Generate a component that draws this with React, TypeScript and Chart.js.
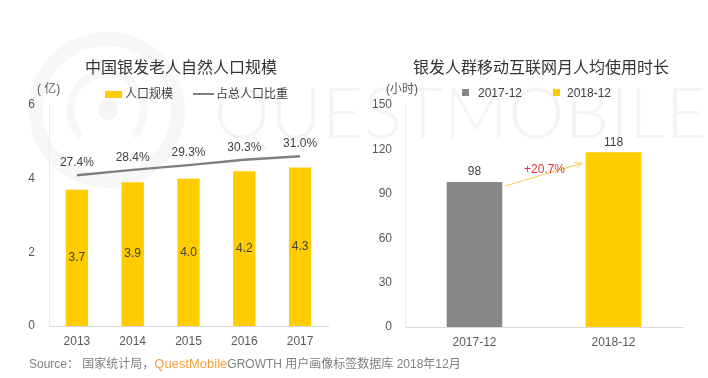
import React, { useEffect, useRef } from "react";
import { Chart, registerables } from "chart.js";

Chart.register(...registerables);

// ---------- data ----------
const years = ["2013", "2014", "2015", "2016", "2017"];
const population = [3.7, 3.9, 4.0, 4.2, 4.3];
const shareOfTotal = [27.4, 28.4, 29.3, 30.3, 31.0];
const populationTicks = [0, 2, 4, 6];

const months = ["2017-12", "2018-12"];
const usageHours = [98, 118];
const hourTicks = [0, 30, 60, 90, 120, 150];
const growthLabel = "+20.7%";

// ---------- styles ----------
const FONT = "'Liberation Sans', Arial, 'Noto Sans CJK SC', sans-serif";
const YELLOW = "#FFCC00";
const GREY_BAR = "#878787";
const LINE_GREY = "#7f7f7f";
const TICK = "#595959";
const LABEL = "#404040";

function LeftChart() {
  const ref = useRef<HTMLCanvasElement | null>(null);
  useEffect(() => {
    if (!ref.current) return;
    const labelPlugin = {
      id: "leftLabels",
      afterDatasetsDraw(chart: any) {
        const ctx = chart.ctx;
        ctx.save();
        ctx.font = `12px ${FONT}`;
        ctx.fillStyle = LABEL;
        ctx.textAlign = "center";
        ctx.textBaseline = "middle";
        const barMeta = chart.getDatasetMeta(1);
        barMeta.data.forEach((el: any, i: number) => {
          ctx.fillText(population[i].toFixed(1), el.x, (el.y + el.base) / 2);
        });
        const lineMeta = chart.getDatasetMeta(0);
        lineMeta.data.forEach((el: any, i: number) => {
          ctx.fillText(shareOfTotal[i].toFixed(1) + "%", el.x, el.y - 12);
        });
        ctx.restore();
      },
    };
    const chart = new Chart(ref.current, {
      type: "bar",
      data: {
        labels: years,
        datasets: [
          {
            type: "line",
            label: "占总人口比重",
            data: shareOfTotal,
            yAxisID: "y2",
            borderColor: LINE_GREY,
            borderWidth: 2.5,
            pointRadius: 0,
            tension: 0,
            order: 0,
          } as any,
          {
            type: "bar",
            label: "人口规模",
            data: population,
            yAxisID: "y",
            backgroundColor: YELLOW,
            barPercentage: 0.4,
            categoryPercentage: 1,
            order: 1,
          },
        ],
      },
      options: {
        animation: false,
        responsive: false,
        maintainAspectRatio: false,
        layout: { padding: { left: 0, top: 105, right: 26, bottom: 0 } },
        plugins: { legend: { display: false }, tooltip: { enabled: false }, title: { display: false } },
        scales: {
          x: {
            grid: { display: false, drawTicks: false },
            border: { display: true, color: "#d9d9d9" },
            ticks: { color: TICK, font: { size: 12, family: FONT }, padding: 8 },
            afterFit: (s: any) => {
              s.height = 52;
            },
          },
          y: {
            min: 0,
            max: 6,
            grid: { display: false, drawTicks: false },
            border: { display: true, color: "#ebebeb" },
            ticks: { color: TICK, font: { size: 12, family: FONT }, padding: 14 },
            afterBuildTicks: (s: any) => {
              s.ticks = populationTicks.map((v) => ({ value: v }));
            },
            afterFit: (s: any) => {
              s.width = 49;
            },
          },
          y2: { display: false, min: -1.2, max: 40.7 },
        },
      } as any,
      plugins: [labelPlugin],
    });
    return () => chart.destroy();
  }, []);
  return <canvas ref={ref} width={354} height={378} style={{ position: "absolute", left: 0, top: 0, width: 354, height: 378 }} />;
}

function RightChart() {
  const ref = useRef<HTMLCanvasElement | null>(null);
  useEffect(() => {
    if (!ref.current) return;
    const labelPlugin = {
      id: "rightLabels",
      afterDatasetsDraw(chart: any) {
        const ctx = chart.ctx;
        const meta = chart.getDatasetMeta(0);
        ctx.save();
        ctx.font = `12px ${FONT}`;
        ctx.fillStyle = LABEL;
        ctx.textAlign = "center";
        ctx.textBaseline = "middle";
        meta.data.forEach((el: any, i: number) => {
          ctx.fillText(String(usageHours[i]), el.x, el.y - 10);
        });
        // growth arrow
        const a = meta.data[0] as any;
        const b = meta.data[1] as any;
        const x1 = a.x + a.width / 2 + 3;
        const y1 = a.y + 4;
        const x2 = b.x - b.width / 2 - 4;
        const y2 = b.y + 11;
        ctx.strokeStyle = "#F7C948";
        ctx.lineWidth = 1;
        ctx.beginPath();
        ctx.moveTo(x1, y1);
        ctx.lineTo(x2, y2);
        const ang = Math.atan2(y2 - y1, x2 - x1);
        const h = 7;
        ctx.moveTo(x2 - h * Math.cos(ang - 0.45), y2 - h * Math.sin(ang - 0.45));
        ctx.lineTo(x2, y2);
        ctx.lineTo(x2 - h * Math.cos(ang + 0.45), y2 - h * Math.sin(ang + 0.45));
        ctx.stroke();
        ctx.fillStyle = "#E5322D";
        ctx.fillText(growthLabel, (x1 + x2) / 2 + 1, (y1 + y2) / 2 - 5);
        ctx.restore();
      },
    };
    const chart = new Chart(ref.current, {
      type: "bar",
      data: {
        labels: months,
        datasets: [
          {
            label: "月人均使用时长",
            data: usageHours,
            backgroundColor: [GREY_BAR, YELLOW],
            barPercentage: 0.4,
            categoryPercentage: 1,
          },
        ],
      },
      options: {
        animation: false,
        responsive: false,
        maintainAspectRatio: false,
        layout: { padding: { left: 0, top: 105, right: 25, bottom: 0 } },
        plugins: { legend: { display: false }, tooltip: { enabled: false }, title: { display: false } },
        scales: {
          x: {
            grid: { display: false, drawTicks: false },
            border: { display: true, color: "#d9d9d9" },
            ticks: { color: TICK, font: { size: 12, family: FONT }, padding: 8 },
            afterFit: (s: any) => {
              s.height = 51;
            },
          },
          y: {
            min: 0,
            max: 150,
            grid: { display: false, drawTicks: false },
            border: { display: true, color: "#ebebeb" },
            ticks: { color: TICK, font: { size: 12, family: FONT }, padding: 13 },
            afterBuildTicks: (s: any) => {
              s.ticks = hourTicks.map((v) => ({ value: v }));
            },
            afterFit: (s: any) => {
              s.width = 51;
            },
          },
        },
      } as any,
      plugins: [labelPlugin],
    });
    return () => chart.destroy();
  }, []);
  return <canvas ref={ref} width={354} height={378} style={{ position: "absolute", left: 354, top: 0, width: 354, height: 378 }} />;
}

const abs = (x: number, y: number, extra: React.CSSProperties = {}): React.CSSProperties => ({
  position: "absolute",
  left: x,
  top: y,
  transform: "translateY(-50%)",
  whiteSpace: "nowrap",
  lineHeight: "1",
  fontFamily: FONT,
  ...extra,
});

export default function App() {
  return (
    <div style={{ position: "fixed", left: 0, top: 0, width: 708, height: 378, background: "#fff", overflow: "hidden" }}>
      {/* watermark */}
      <div style={{ position: "absolute", left: 29, top: 32, width: 156, height: 156, borderRadius: "50%", border: "14px solid #f7f7f7", boxSizing: "border-box" }} />
      <div style={{ position: "absolute", left: 66, top: 69, width: 82, height: 82, borderRadius: "50%", border: "8px solid #f7f7f7", borderBottomColor: "transparent", boxSizing: "border-box" }} />
      <div style={{ position: "absolute", left: 98, top: 100, width: 20, height: 20, borderRadius: "50%", background: "#f5f5f5" }} />
      <div style={{ position: "absolute", left: 214, top: 76, fontFamily: "Lato, 'Liberation Sans', sans-serif", fontWeight: 300, fontSize: 70, letterSpacing: 1, color: "#f4f4f4", lineHeight: "1", whiteSpace: "nowrap" }}>
        QUESTMOBILE
      </div>

      <LeftChart />
      <RightChart />

      {/* titles */}
      <div style={{ ...abs(181, 66, { fontSize: 16, color: "#333", fontFamily: "'Noto Sans CJK SC', sans-serif" }), transform: "translate(-50%, -50%)" }}>
        中国银发老人自然人口规模
      </div>
      <div style={{ ...abs(541, 66, { fontSize: 16, color: "#333", fontFamily: "'Noto Sans CJK SC', sans-serif" }), transform: "translate(-50%, -50%)" }}>
        银发人群移动互联网月人均使用时长
      </div>

      {/* units */}
      <div style={abs(37, 89, { fontSize: 12, color: TICK })}>( 亿)</div>
      <div style={abs(386, 89, { fontSize: 12, color: TICK })}>(小时)</div>

      {/* left legend */}
      <div style={{ position: "absolute", left: 105, top: 91, width: 17, height: 7, background: YELLOW }} />
      <div style={abs(125, 94, { fontSize: 12, color: LABEL })}>人口规模</div>
      <div style={{ position: "absolute", left: 193, top: 93, width: 21, height: 2, background: LINE_GREY }} />
      <div style={abs(216, 94, { fontSize: 12, color: LABEL })}>占总人口比重</div>

      {/* right legend */}
      <div style={{ position: "absolute", left: 462, top: 89, width: 7, height: 7, background: GREY_BAR }} />
      <div style={abs(478, 93, { fontSize: 12, color: LABEL })}>2017-12</div>
      <div style={{ position: "absolute", left: 553, top: 89, width: 7, height: 7, background: YELLOW }} />
      <div style={abs(567, 93, { fontSize: 12, color: LABEL })}>2018-12</div>

      {/* source */}
      <div style={abs(29, 363, { fontSize: 12, color: "#7f7f7f" })}>
        Source：&nbsp;国家统计局，
        <span style={{ color: "#F5A03A", fontSize: 13 }}>QuestMobile</span>
        <span>GROWTH 用户画像标签数据库 2018年12月</span>
      </div>
    </div>
  );
}
